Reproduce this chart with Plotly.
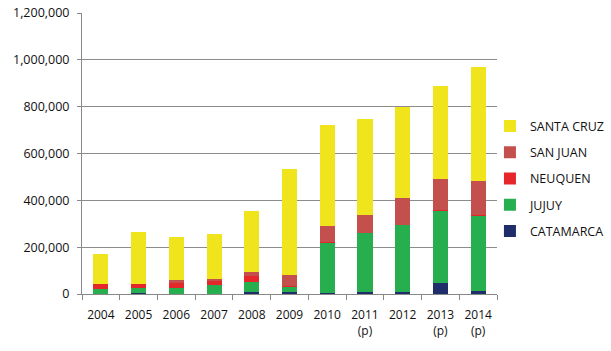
import plotly.graph_objects as go

years = ["2004", "2005", "2006", "2007", "2008", "2009", "2010",
         "2011<br>(p)", "2012", "2013<br>(p)", "2014<br>(p)"]

catamarca = [2000, 3000, 2000, 2000, 8000, 7000, 3000, 8000, 10000, 46000, 14000]
jujuy = [19000, 24000, 25000, 38000, 44000, 23000, 215000, 253000, 285000, 309000, 323000]
neuquen = [20000, 17000, 20000, 14000, 26000, 6000, 4000, 1000, 1000, 2000, 1000]
san_juan = [0, 0, 11000, 11000, 16000, 44000, 68000, 76000, 113000, 134000, 144000]
santa_cruz = [131000, 221000, 187000, 191000, 261000, 453000, 433000, 408000, 391000, 399000, 487000]

series = [
    ("CATAMARCA", catamarca, "#1F2D6B", 5),
    ("JUJUY", jujuy, "#27AE4F", 4),
    ("NEUQUEN", neuquen, "#E5262B", 3),
    ("SAN JUAN", san_juan, "#C4504D", 2),
    ("SANTA CRUZ", santa_cruz, "#F0E51C", 1),
]

fig = go.Figure()
for name, vals, col, rank in series:
    fig.add_trace(go.Bar(x=years, y=vals, name=name, marker_color=col,
                         marker_line_width=0, legendgroup=name, legendrank=rank))

font = "Open Sans"
fig.update_layout(
    barmode="stack",
    bargap=0.6,
    width=611, height=351,
    margin=dict(l=82, r=114, t=13, b=57, autoexpand=False),
    paper_bgcolor="white", plot_bgcolor="white",
    font=dict(family=font, size=12, color="#111111"),
    legend=dict(traceorder="grouped", x=0.983, y=0.41, yanchor="middle",
                xanchor="left", tracegroupgap=7, font=dict(size=12.5),
                itemwidth=30, bgcolor="rgba(0,0,0,0)"),
    showlegend=True,
)
fig.update_xaxes(type="category", showline=True, linecolor="#888888", linewidth=1,
                 ticks="outside", tickson="boundaries", ticklen=5, tickcolor="#888888",
                 tickangle=0, ticklabelstandoff=10, tickfont=dict(size=12))
fig.update_yaxes(range=[0, 1200000], dtick=200000, tickformat=",", showgrid=True,
                 gridcolor="#8c8c8c", gridwidth=1, showline=True, linecolor="#888888",
                 ticks="outside", ticklen=4, tickcolor="#888888", zeroline=False,
                 ticklabelstandoff=5, tickfont=dict(size=12.5))

fig.write_html("out.html")
